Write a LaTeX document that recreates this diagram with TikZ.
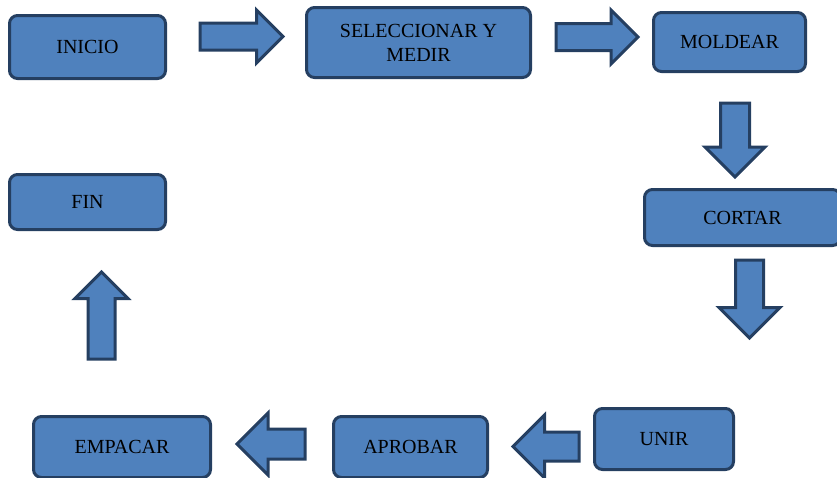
\documentclass[tikz,border=0pt]{standalone}
\usepackage{fontspec}
\setmainfont{Liberation Serif}
\usetikzlibrary{shapes.arrows}

\definecolor{relleno}{HTML}{4F81BD}
\definecolor{borde}{HTML}{253F61}

\tikzset{
  caja/.style={draw=borde, fill=relleno, line width=3pt, rounded corners=8pt,
    align=center, inner sep=0pt, font=\fontsize{20}{24}\selectfont},
  flecha/.style={single arrow, draw=borde, fill=relleno, line width=3pt,
    single arrow tip angle=90, anchor=tail, minimum height=#1}
}

\begin{document}
\begin{tikzpicture}[x=1pt, y=-1pt]
  \useasboundingbox (0, 0) rectangle (837, 477) ;
  \clip (0, 0) rectangle (837, 477) ;
  % cajas
  \node[caja, minimum width=156pt, minimum height=63pt] (inicio) at (87.5, 47) {INICIO} ;
  \node[caja, minimum width=224pt, minimum height=70pt] (medir) at (418.5, 42.5) {SELECCIONAR Y\\MEDIR} ;
  \node[caja, minimum width=152pt, minimum height=59pt] (moldear) at (729.5, 42) {MOLDEAR} ;
  \node[caja, minimum width=196pt, minimum height=56pt] (cortar) at (742.5, 217.5) {CORTAR} ;
  \node[caja, minimum width=139pt, minimum height=61pt] (unir) at (664, 439) {UNIR} ;
  \node[caja, minimum width=154pt, minimum height=61pt] (aprobar) at (410.5, 447) {APROBAR} ;
  \node[caja, minimum width=177pt, minimum height=61pt] (empacar) at (122, 447) {EMPACAR} ;
  \node[caja, minimum width=156pt, minimum height=55pt] (fin) at (87.5, 202) {FIN} ;
  % flechas
  \node[flecha=83pt, inner sep=12pt, single arrow head extend=13pt, minimum width=50pt]
    (f1) at (198.5, 36.5) {} ;
  \node[flecha=82pt, inner sep=12pt, single arrow head extend=13.5pt, minimum width=51pt]
    (f2) at (554.5, 37) {} ;
  \node[flecha=74pt, inner sep=13pt, single arrow head extend=15.5pt, minimum width=57pt,
    shape border rotate=270] (f3) at (735, 101.5) {} ;
  \node[flecha=78pt, inner sep=12.5pt, single arrow head extend=16.5pt, minimum width=58pt,
    shape border rotate=270] (f4) at (749.5, 258.5) {} ;
  \node[flecha=66pt, inner sep=13pt, single arrow head extend=17pt, minimum width=60pt,
    shape border rotate=180] (f5) at (580.5, 446.5) {} ;
  \node[flecha=68pt, inner sep=13.5pt, single arrow head extend=16pt, minimum width=59pt,
    shape border rotate=180] (f6) at (306.5, 444) {} ;
  \node[flecha=87pt, inner sep=12pt, single arrow head extend=13pt, minimum width=50pt,
    shape border rotate=90] (f7) at (101.5, 360.5) {} ;
\end{tikzpicture}
\end{document}
